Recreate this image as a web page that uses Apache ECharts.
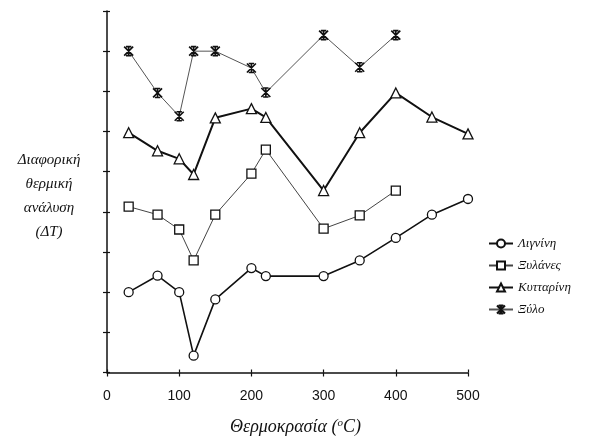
<!DOCTYPE html>
<html><head><meta charset="utf-8">
<script src="https://cdn.jsdelivr.net/npm/echarts@6/dist/echarts.min.js"></script>
<style>html,body{margin:0;padding:0;background:#fff}#c{width:611px;height:441px}</style>
</head><body><div id="c"></div>
<script>
const xLignin = [30, 70, 100, 120, 150, 200, 220, 300, 350, 400, 450, 500];
const yLignin = [2.0, 2.41, 2.0, 0.42, 1.82, 2.6, 2.4, 2.4, 2.79, 3.35, 3.93, 4.32];
const xXylan = [30, 70, 100, 120, 150, 200, 220, 300, 350, 400];
const yXylan = [4.13, 3.93, 3.56, 2.79, 3.93, 4.95, 5.55, 3.58, 3.91, 4.53];
const xCell = [30, 70, 100, 120, 150, 200, 220, 300, 350, 400, 450, 500];
const yCell = [5.97, 5.52, 5.32, 4.93, 6.34, 6.57, 6.35, 4.53, 5.97, 6.96, 6.36, 5.94];
const xWood = [30, 70, 100, 120, 150, 200, 220, 300, 350, 400];
const yWood = [8.0, 6.96, 6.38, 8.0, 8.0, 7.58, 6.97, 8.4, 7.6, 8.4];
const seriesNames = ['Λιγνίνη', 'Ξυλάνες', 'Κυτταρίνη', 'Ξύλο'];
const xTicks = [0, 100, 200, 300, 400, 500];

const pair = (xs, ys) => xs.map((x, i) => [x, ys[i]]);
const starPath = 'path://M0,0L10,10M10,0L0,10M5,0L5,10M2,0L8,0M2,10L8,10';

const chart = echarts.init(document.getElementById('c'), null, {renderer: 'canvas'});
const axisLine = {show: true, lineStyle: {color: '#111', width: 1.5}};
chart.setOption({
  animation: false,
  backgroundColor: '#fff',
  grid: {left: 107, right: 143, top: 11, bottom: 68},
  xAxis: [{
    type: 'value', min: 0, max: 500, interval: 100,
    axisLine: axisLine, splitLine: {show: false},
    axisTick: {show: true, length: 4, lineStyle: {color: '#111', width: 1.2}},
    axisLabel: {margin: 17, fontFamily: 'Liberation Sans', fontSize: 14, color: '#111',
      formatter: v => xTicks.includes(v) ? String(v) : ''},
    name: 'Θερμοκρασία ({s|o}C)', nameLocation: 'middle', nameGap: 45,
    nameTextStyle: {fontFamily: 'Liberation Serif', fontStyle: 'italic', fontSize: 18, color: '#111',
      padding: [0, 0, 0, 16],
      rich: {s: {fontFamily: 'Liberation Serif', fontStyle: 'italic', fontSize: 11, verticalAlign: 'top', padding: [0, 0, 8, 0]}}}
  }, {
    type: 'value', min: 0, max: 500, interval: 100, position: 'bottom',
    axisLine: {show: false}, splitLine: {show: false}, axisLabel: {show: false},
    axisTick: {show: true, inside: true, length: 3, lineStyle: {color: '#111', width: 1.2}}
  }],
  yAxis: [{
    type: 'value', min: 0, max: 9, interval: 1,
    axisLine: axisLine, splitLine: {show: false}, axisLabel: {show: false},
    axisTick: {show: true, length: 4, lineStyle: {color: '#111', width: 1.2}}
  }, {
    type: 'value', min: 0, max: 9, interval: 1, position: 'left',
    axisLine: {show: false}, splitLine: {show: false}, axisLabel: {show: false},
    axisTick: {show: true, inside: true, length: 3, lineStyle: {color: '#111', width: 1.2}}
  }],
  legend: {
    orient: 'vertical', left: 483, top: 232, itemGap: 9, itemWidth: 24, itemHeight: 10,
    data: seriesNames,
    textStyle: {fontFamily: 'Liberation Serif', fontStyle: 'italic', fontSize: 13, color: '#111'}
  },
  graphic: [{
    type: 'text', x: 49, y: 148,
    style: {text: 'Διαφορική\nθερμική\nανάλυση\n(ΔT)', textAlign: 'center', fill: '#111',
      font: 'italic 15px "Liberation Serif"', lineHeight: 24}
  }],
  series: [{
    name: seriesNames[0], type: 'line', data: pair(xLignin, yLignin),
    symbol: 'circle', symbolSize: 9, showAllSymbol: true,
    lineStyle: {color: '#111', width: 1.6},
    itemStyle: {color: '#fff', borderColor: '#111', borderWidth: 1.3}
  }, {
    name: seriesNames[1], type: 'line', data: pair(xXylan, yXylan),
    symbol: 'rect', symbolSize: 9,
    lineStyle: {color: '#444', width: 1},
    itemStyle: {color: '#fff', borderColor: '#111', borderWidth: 1.3}
  }, {
    name: seriesNames[2], type: 'line', data: pair(xCell, yCell),
    symbol: 'triangle', symbolSize: 10,
    lineStyle: {color: '#111', width: 2},
    itemStyle: {color: '#fff', borderColor: '#111', borderWidth: 1.3}
  }, {
    name: seriesNames[3], type: 'line', data: pair(xWood, yWood),
    symbol: starPath, symbolSize: 9,
    lineStyle: {color: '#555', width: 1},
    itemStyle: {color: 'rgba(0,0,0,0)', borderColor: '#111', borderWidth: 1.6}
  }]
});
</script></body></html>
